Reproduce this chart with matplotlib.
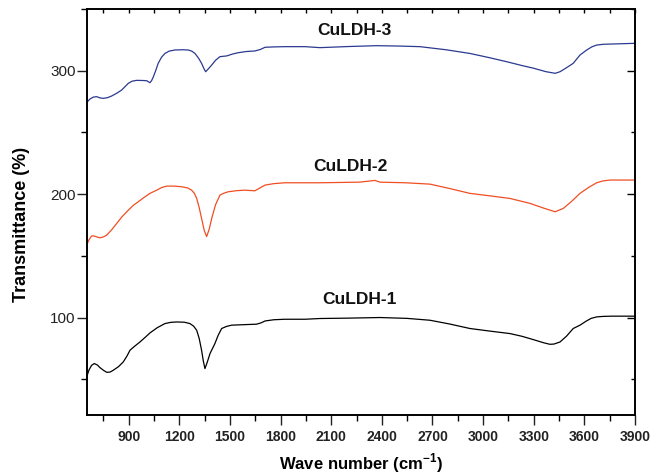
import numpy as np
import matplotlib.pyplot as plt
from matplotlib.ticker import MultipleLocator

plt.rcParams['font.family'] = ['Liberation Sans', 'DejaVu Sans']
plt.rcParams['mathtext.fontset'] = 'custom'
plt.rcParams['mathtext.bf'] = 'Liberation Sans:bold'
plt.rcParams['mathtext.rm'] = 'Liberation Sans'

# FTIR spectra of the three CuLDH samples (wavenumber in cm-1, transmittance in %)
wn3 = [650, 670, 690, 710, 730, 750, 775, 799, 830, 858, 880, 898, 920, 947, 980, 1007,
       1026, 1036, 1046, 1060, 1075, 1095, 1115, 1140, 1174, 1220, 1253, 1275, 1293, 1315,
       1332, 1345, 1356, 1372, 1392, 1415, 1441, 1481, 1515, 1549, 1600, 1648, 1680, 1708,
       1760, 1826, 1945, 2034, 2200, 2369, 2500, 2626, 2780, 2922, 3040, 3140, 3230, 3300,
       3370, 3427, 3456, 3495, 3534, 3574, 3614, 3645, 3673, 3710, 3752, 3900]
t3 = [274, 277, 278.6, 279, 278, 277.6, 278.2, 279.5, 281.8, 284.3, 287.3, 289.8, 291.5,
      292.2, 292.1, 291.9, 290.3, 292, 295, 300, 306, 311, 314, 315.9, 316.8, 317, 316.8,
      315.8, 314, 310, 306, 302, 299.2, 301.5, 304.6, 308.5, 311.4, 312, 313.5, 314.6,
      315.6, 316, 317.2, 319, 319.3, 319.5, 319.5, 318.7, 319.6, 320.3, 320, 319.5, 317,
      314, 310.5, 307.3, 304.2, 302, 299.3, 297.9, 299.2, 302.5, 306, 312.7, 316.8, 319.4,
      320.8, 321.4, 321.6, 322.2]

wn2 = [651, 665, 680, 690, 710, 730, 750, 770, 800, 829, 860, 898, 930, 957, 990, 1026,
       1066, 1095, 1125, 1170, 1214, 1250, 1273, 1290, 1303, 1318, 1332, 1348, 1362, 1376,
       1392, 1415, 1441, 1465, 1490, 1540, 1589, 1648, 1675, 1708, 1760, 1826, 1945, 2034,
       2268, 2359, 2389, 2540, 2685, 2800, 2922, 3040, 3159, 3278, 3360, 3427, 3475, 3525,
       3574, 3625, 3673, 3710, 3752, 3900]
t2 = [158.6, 163, 166, 166.2, 165.4, 164.6, 165.3, 166.8, 171.2, 176.2, 181.6, 187,
      191.2, 193.8, 197.2, 200.6, 203.2, 205.3, 206.5, 206.5, 206, 205, 203.2, 200.5,
      196.5, 189, 180.3, 170.5, 165.6, 171, 180.3, 191.5, 199.2, 200.8, 201.9, 202.8,
      203.2, 202.7, 204.8, 207.3, 208.5, 209.2, 209.2, 209.2, 209.7, 211.1, 209.7, 209.2,
      208.1, 204.6, 200.6, 198.6, 196.5, 192.5, 188.6, 185.7, 188.4, 194.2, 200.6, 205.4,
      209.2, 210.7, 211.4, 211.4]

wn1 = [651, 665, 680, 696, 715, 730, 750, 770, 790, 809, 840, 868, 890, 908, 935, 967,
       1000, 1026, 1070, 1115, 1150, 1184, 1230, 1263, 1285, 1303, 1318, 1332, 1342, 1352,
       1365, 1382, 1411, 1430, 1451, 1480, 1510, 1580, 1658, 1685, 1708, 1760, 1826, 1945,
       2034, 2200, 2389, 2550, 2685, 2800, 2922, 3040, 3159, 3230, 3300, 3360, 3396, 3420,
       3456, 3495, 3534, 3574, 3610, 3640, 3673, 3710, 3760, 3900]
t1 = [51.8, 57.5, 61.2, 62.7, 61.5, 59.4, 57.3, 55.6, 55.8, 57.3, 60.2, 64, 68.8, 73.5,
      76.7, 80.2, 84.2, 87.5, 91.8, 95.1, 96.1, 96.4, 96.2, 95.1, 93, 89.7, 83, 73.5,
      65, 58.6, 63.5, 70.8, 78.9, 85.5, 91.1, 92.8, 93.8, 94.2, 94.6, 95.7, 97.2, 98.2,
      98.6, 98.6, 99.2, 99.5, 100, 99.3, 97.8, 94.8, 91.1, 89, 87, 84.8, 82, 79.5, 78.3,
      78.5, 80.2, 85, 91.1, 93.8, 97, 99.3, 100.5, 100.9, 101.1, 101.1]

names = ['CuLDH-1', 'CuLDH-2', 'CuLDH-3']
label_pos = [(2270, 114.8), (2214, 222.3), (2235, 333)]

fig = plt.figure(figsize=(6.51, 4.75), dpi=100)
rect = [0.1336, 0.1263, 0.8418, 0.8547]
ax = fig.add_axes(rect)

ax.plot(wn1, t1, color='black', lw=0.9)
ax.plot(wn2, t2, color='#f04e23', lw=0.9)
ax.plot(wn3, t3, color='#2b3990', lw=0.9)

for name, (xp, yp) in zip(names, label_pos):
    ax.text(xp, yp, name, ha='center', va='center', fontsize=12.5, fontweight='bold', color='#111')

ax.set_xlim(653, 3900)
ax.set_ylim(21, 350)
ax.set_xticks(np.arange(900, 3901, 300))
ax.xaxis.set_minor_locator(MultipleLocator(150))
ax.yaxis.set_major_locator(MultipleLocator(100))
ax.yaxis.set_minor_locator(MultipleLocator(50))
ax.tick_params(axis='both', which='major', direction='out', length=7, width=1.0, colors='#222')
ax.tick_params(axis='both', which='minor', direction='out', length=4, width=1.0)
ax.tick_params(axis='x', which='major', labelsize=10, pad=4)
ax.tick_params(axis='y', which='major', labelsize=11, pad=1)
for lab in ax.get_xticklabels():
    lab.set_fontweight('bold')

# overlay axes carrying the inward ticks on the top and right edges
ax2 = fig.add_axes(rect, sharex=ax, sharey=ax)
ax2.patch.set_visible(False)
ax2.tick_params(which='both', direction='in', bottom=False, left=False, top=True, right=True,
                labelbottom=False, labelleft=False, width=1.0)
ax2.tick_params(axis='x', which='both', length=3)
ax2.tick_params(axis='y', which='major', length=6)
ax2.tick_params(axis='y', which='minor', length=3)

for a in (ax, ax2):
    for s in a.spines.values():
        s.set_linewidth(1.2)

ax.set_xlabel('Wave number (cm$^{\\mathbf{-1}}$)', fontsize=12, fontweight='bold')
ax.set_ylabel('Transmittance (%)', fontsize=13, fontweight='bold')
ax.xaxis.set_label_coords(0.5, -0.118)
ax.yaxis.set_label_coords(-0.1195, 0.469)
ax.xaxis.label.set_va('center')
ax.yaxis.label.set_va('center')

fig.savefig('out.png', dpi=100)
